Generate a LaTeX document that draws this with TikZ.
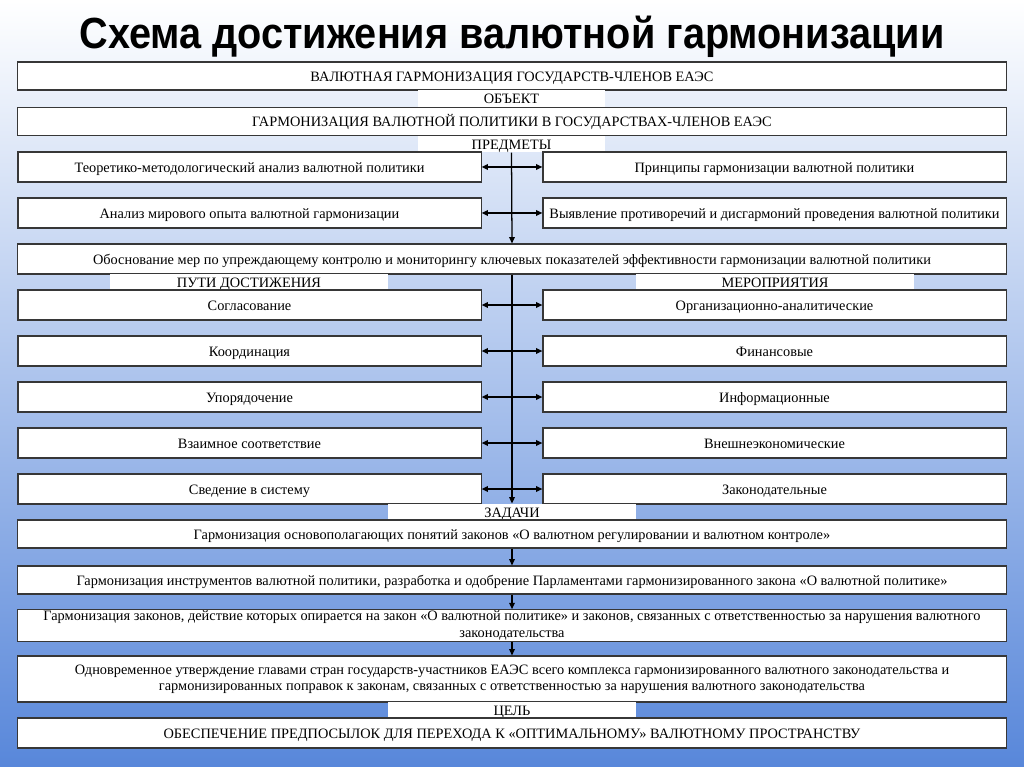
\documentclass[tikz,border=0pt]{standalone}
\usepackage{fontspec}
\setmainfont{Liberation Serif}
\newfontfamily\titlefont[FakeStretch=0.91]{Liberation Sans}
\usetikzlibrary{arrows.meta,shadows}

\definecolor{bgblue}{RGB}{88,135,218}
\definecolor{bgmid}{RGB}{176,196,236}
\definecolor{boxline}{RGB}{55,55,55}

\begin{document}
\begin{tikzpicture}[x=0.025cm, y=-0.025cm,
  box/.style={draw=boxline, fill=white, line width=0.8pt, align=center, inner sep=1pt,
    font=\fontsize{10.2}{11.5}\selectfont,
    drop shadow={shadow xshift=0.7pt, shadow yshift=-0.7pt, fill=black, opacity=0.35}},
  oneline/.style={text height=2.1ex, text depth=0.45ex},
  widebox/.style={box, minimum width=24.7cm, minimum height=0.7cm},
  halfbox/.style={box, oneline, minimum width=11.575cm, minimum height=0.75cm},
  strip/.style={fill=white, inner sep=0pt, oneline, minimum height=0.4cm, font=\fontsize{10.2}{12}\selectfont},
  arr/.style={-{Triangle[length=4.5pt,width=4pt]}, line width=0.9pt},
  darr/.style={{Triangle[length=4.5pt,width=4pt]}-{Triangle[length=4.5pt,width=4pt]}, line width=0.9pt}]

% background
\shade[top color=white, middle color=bgmid, bottom color=bgblue] (0,0) rectangle (1024,767);

% title
\node (title) at (512,37) {\titlefont\bfseries\fontsize{31}{36}\selectfont Схема достижения валютной гармонизации};

% object
\node[widebox, oneline] (harm) at (512,76) {ВАЛЮТНАЯ ГАРМОНИЗАЦИЯ ГОСУДАРСТВ-ЧЛЕНОВ ЕАЭС};
\node[strip, minimum width=4.675cm, minimum height=0.425cm] (obj) at (511.5,98.5) {ОБЪЕКТ};
\node[widebox, oneline] (polit) at (512,121.5) {ГАРМОНИЗАЦИЯ ВАЛЮТНОЙ ПОЛИТИКИ В ГОСУДАРСТВАХ-ЧЛЕНОВ ЕАЭС};
\node[strip, minimum width=4.675cm, minimum height=0.4cm] (predm) at (511.5,144) {ПРЕДМЕТЫ};

% subjects
\node[halfbox] (teor) at (249.5,167) {Теоретико-методологический анализ валютной политики};
\node[halfbox] (princ) at (774.5,167) {Принципы гармонизации валютной политики};
\node[halfbox] (opyt) at (249.5,213) {Анализ мирового опыта валютной гармонизации};
\node[halfbox] (protiv) at (774.5,213) {Выявление противоречий и дисгармоний проведения валютной политики};
\node[widebox, oneline, minimum height=0.75cm] (obosn) at (512,259) {Обоснование мер по упреждающему контролю и мониторингу ключевых показателей эффективности гармонизации валютной политики};

\draw[arr] (predm.south) -- (obosn.north);
\draw[darr] (teor.east) -- (princ.west);
\draw[darr] (opyt.east) -- (protiv.west);

% ways and measures
\node[strip, minimum width=6.95cm] (puti) at (249,282) {ПУТИ ДОСТИЖЕНИЯ};
\node[strip, minimum width=6.95cm] (merop) at (775,282) {МЕРОПРИЯТИЯ};

\node[halfbox] (w1) at (249.5,305) {Согласование};
\node[halfbox] (w2) at (249.5,351) {Координация};
\node[halfbox] (w3) at (249.5,397) {Упорядочение};
\node[halfbox] (w4) at (249.5,443) {Взаимное соответствие};
\node[halfbox] (w5) at (249.5,489) {Сведение в систему};
\node[halfbox] (m1) at (774.5,305) {Организационно-аналитические};
\node[halfbox] (m2) at (774.5,351) {Финансовые};
\node[halfbox] (m3) at (774.5,397) {Информационные};
\node[halfbox] (m4) at (774.5,443) {Внешнеэкономические};
\node[halfbox] (m5) at (774.5,489) {Законодательные};

\node[strip, minimum width=6.2cm] (zad) at (512,512) {ЗАДАЧИ};

\draw[arr] (obosn.south) -- (zad.north);
\foreach \i in {1,...,5}
  \draw[darr] (w\i.east) -- (m\i.west);

% tasks
\node[widebox, oneline] (z1) at (512,534) {Гармонизация основополагающих понятий законов «О валютном регулировании и валютном контроле»};
\node[widebox, oneline] (z2) at (512,580) {Гармонизация инструментов валютной политики, разработка и одобрение Парламентами гармонизированного закона «О валютной политике»};
\node[widebox, minimum height=0.775cm] (z3) at (512,625.5) {Гармонизация законов, действие которых опирается на закон «О валютной политике» и законов, связанных с ответственностью за нарушения валютного\\ законодательства};
\node[widebox, minimum height=1.15cm] (z4) at (512,679) {Одновременное утверждение главами стран государств-участников ЕАЭС всего комплекса гармонизированного валютного законодательства и\\ гармонизированных поправок к законам, связанных с ответственностью за нарушения валютного законодательства};

\draw[arr] (z1.south) -- (z2.north);
\draw[arr] (z2.south) -- (z3.north);
\draw[arr] (z3.south) -- (z4.north);

% goal
\node[strip, minimum width=6.2cm] (cel) at (512,710) {ЦЕЛЬ};
\node[widebox, oneline, minimum height=0.75cm] (goal) at (512,733) {ОБЕСПЕЧЕНИЕ ПРЕДПОСЫЛОК ДЛЯ ПЕРЕХОДА К «ОПТИМАЛЬНОМУ» ВАЛЮТНОМУ ПРОСТРАНСТВУ};
\end{tikzpicture}
\end{document}
